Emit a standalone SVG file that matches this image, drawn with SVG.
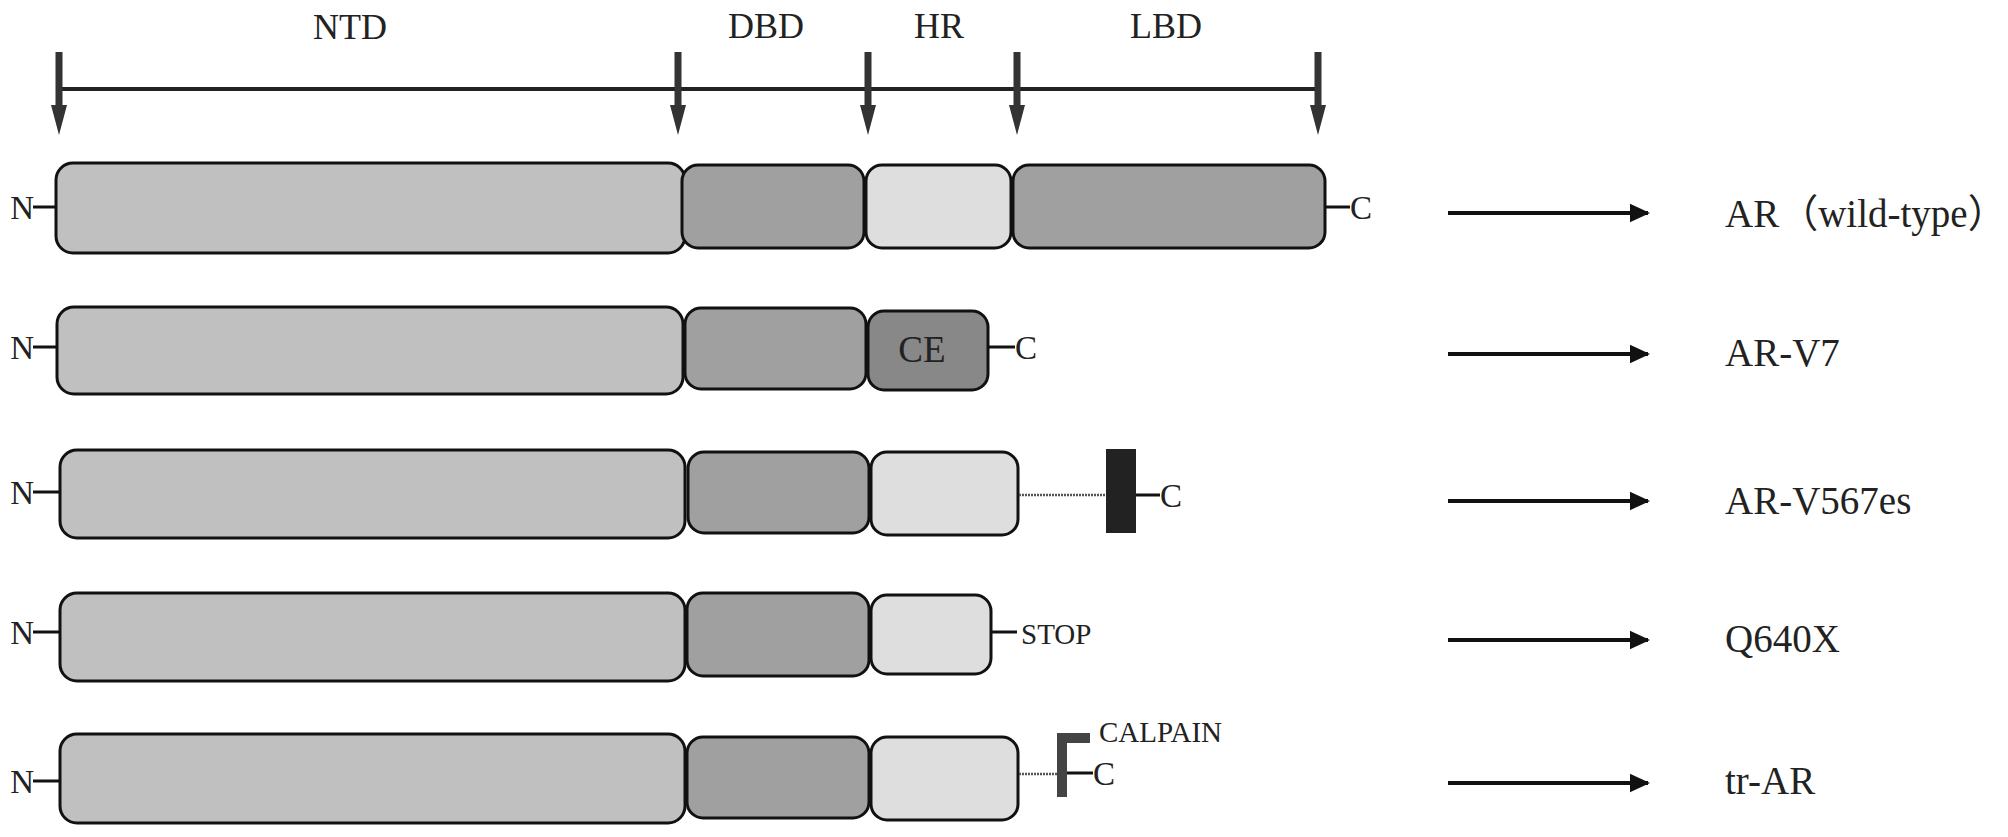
<svg xmlns="http://www.w3.org/2000/svg" width="2008" height="837" viewBox="0 0 2008 837">
<style>
text{font-family:"Liberation Serif","Noto Sans CJK SC",serif;fill:#222}
.dom{font-size:36px;text-anchor:middle}
.lbl{font-size:39px}
.nc{font-size:33px}
.box{stroke:#111;stroke-width:3}
.ntd{fill:#c0c0c0}
.dbd{fill:#a0a0a0}
.hr{fill:#dedede}
.ce{fill:#888888}
.stub{stroke:#111;stroke-width:3}
.dot{stroke:#555;stroke-width:2.5;stroke-dasharray:2 1}
.ax{stroke:#222;stroke-width:4}
.da{fill:#333}
</style>
<defs>
<g id="downArrow"><rect x="-3.5" y="52" width="7" height="56"/><polygon points="-8,105 8,105 0,135"/></g>
<marker id="rh" markerWidth="5" markerHeight="5" refX="4.5" refY="2.5" orient="auto" markerUnits="strokeWidth"><polygon points="0,0.2 5,2.5 0,4.8" fill="#111"/></marker>
</defs>

<g id="scale">
<text class="dom" x="350" y="39">NTD</text>
<text class="dom" x="766" y="38">DBD</text>
<text class="dom" x="939" y="38">HR</text>
<text class="dom" x="1166" y="38">LBD</text>
<line class="ax" x1="59" y1="89" x2="1318" y2="89"/>
<use href="#downArrow" class="da" x="59"/>
<use href="#downArrow" class="da" x="678"/>
<use href="#downArrow" class="da" x="868"/>
<use href="#downArrow" class="da" x="1017"/>
<use href="#downArrow" class="da" x="1318"/>
</g>

<g id="row-wt">
<line class="stub" x1="33" y1="207" x2="56" y2="207"/>
<text class="nc" x="34" y="219" text-anchor="end">N</text>
<rect class="box ntd" x="56" y="163" width="629" height="90" rx="17"/>
<rect class="box dbd" x="682" y="165" width="182" height="83" rx="16"/>
<rect class="box hr" x="866" y="165" width="145" height="83" rx="16"/>
<rect class="box dbd" x="1013" y="165" width="312" height="83" rx="16"/>
<line class="stub" x1="1325" y1="207" x2="1350" y2="207"/>
<text class="nc" x="1350" y="219">C</text>
</g>

<g id="row-v7">
<line class="stub" x1="33" y1="347" x2="57" y2="347"/>
<text class="nc" x="34" y="359" text-anchor="end">N</text>
<rect class="box ntd" x="57" y="307" width="626" height="87" rx="17"/>
<rect class="box dbd" x="685" y="308" width="181" height="81" rx="16"/>
<rect class="box ce" x="868" y="311" width="120" height="79" rx="16"/>
<text x="922" y="362" font-size="37" text-anchor="middle">CE</text>
<line class="stub" x1="988" y1="347" x2="1015" y2="347"/>
<text class="nc" x="1015" y="359">C</text>
</g>

<g id="row-v567es">
<line class="stub" x1="33" y1="492" x2="60" y2="492"/>
<text class="nc" x="34" y="504" text-anchor="end">N</text>
<rect class="box ntd" x="60" y="450" width="625" height="88" rx="17"/>
<rect class="box dbd" x="688" y="452" width="181" height="81" rx="16"/>
<rect class="box hr" x="871" y="452" width="147" height="83" rx="16"/>
<line class="dot" x1="1019" y1="495" x2="1106" y2="495"/>
<rect x="1106" y="449" width="30" height="84" fill="#222"/>
<line class="stub" x1="1136" y1="495" x2="1160" y2="495"/>
<text class="nc" x="1160" y="507">C</text>
</g>

<g id="row-q640x">
<line class="stub" x1="33" y1="632" x2="60" y2="632"/>
<text class="nc" x="34" y="644" text-anchor="end">N</text>
<rect class="box ntd" x="60" y="593" width="625" height="88" rx="17"/>
<rect class="box dbd" x="687" y="593" width="182" height="83" rx="16"/>
<rect class="box hr" x="871" y="595" width="120" height="79" rx="16"/>
<line class="stub" x1="991" y1="632" x2="1017" y2="632"/>
<text x="1021" y="644" font-size="29">STOP</text>
</g>

<g id="row-trar">
<line class="stub" x1="33" y1="781" x2="60" y2="781"/>
<text class="nc" x="34" y="793" text-anchor="end">N</text>
<rect class="box ntd" x="60" y="734" width="625" height="89" rx="17"/>
<rect class="box dbd" x="687" y="737" width="182" height="81" rx="16"/>
<rect class="box hr" x="871" y="737" width="147" height="83" rx="16"/>
<line class="dot" x1="1019" y1="774" x2="1057" y2="774"/>
<path d="M1057,733 H1090 V743 H1067 V797 H1057 Z" fill="#444"/>
<line class="stub" x1="1067" y1="773" x2="1093" y2="773"/>
<text class="nc" x="1093" y="785">C</text>
<text x="1099" y="742" font-size="29">CALPAIN</text>
</g>

<g id="labels">
<text class="lbl" x="1725" y="227">AR（wild-type）</text>
<text class="lbl" x="1725" y="366">AR-V7</text>
<text class="lbl" x="1725" y="514">AR-V567es</text>
<text class="lbl" x="1725" y="652">Q640X</text>
<text class="lbl" x="1725" y="794">tr-AR</text>
</g>

<g id="connectors" stroke="#111" stroke-width="4" marker-end="url(#rh)">
<line x1="1448" y1="213" x2="1648" y2="213"/>
<line x1="1448" y1="354" x2="1648" y2="354"/>
<line x1="1448" y1="501" x2="1648" y2="501"/>
<line x1="1448" y1="640" x2="1648" y2="640"/>
<line x1="1448" y1="783" x2="1648" y2="783"/>
</g>
</svg>
